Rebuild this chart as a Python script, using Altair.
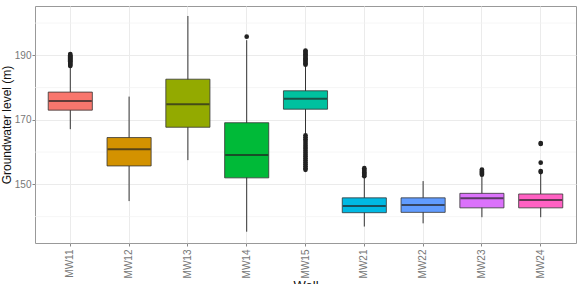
import altair as alt
import pandas as pd

wells = ["MW11", "MW12", "MW13", "MW14", "MW15", "MW21", "MW22", "MW23", "MW24"]
colors = ["#F8766D", "#D39200", "#93AA00", "#00BA38", "#00C19F",
          "#00B9E3", "#619CFF", "#DB72FB", "#FF61C3"]
whisker_lo = [167.1, 144.8, 157.5, 135.3, 165.3, 136.9, 137.9, 139.8, 139.8]
q1 = [173.0, 155.7, 167.7, 152.0, 173.3, 141.2, 141.3, 142.7, 142.7]
median = [175.8, 160.9, 174.8, 159.1, 176.5, 143.3, 143.6, 145.7, 145.1]
q3 = [178.6, 164.5, 182.6, 169.1, 179.0, 145.8, 145.8, 147.2, 147.0]
whisker_hi = [186.5, 177.2, 202.2, 194.7, 187.0, 152.4, 151.0, 152.9, 153.4]
outliers = [
    [186.7, 187.0, 187.3, 187.6, 187.9, 188.2, 188.5, 188.8, 189.1, 189.4, 189.7, 190.0, 190.4],
    [],
    [],
    [195.8],
    [187.1, 187.5, 187.9, 188.3, 188.7, 189.1, 189.5, 189.9, 190.3, 190.7, 191.1, 191.5,
     165.2, 164.6, 164.0, 163.4, 162.8, 162.2, 161.6, 161.0, 160.4, 159.8, 159.2, 158.6,
     158.0, 157.4, 156.8, 156.2, 155.6, 155.0, 154.5],
    [152.5, 152.9, 153.3, 153.7, 154.1, 154.5, 155.0],
    [],
    [153.0, 153.3, 153.6, 153.9, 154.2, 154.6],
    [153.8, 154.1, 156.7, 162.5, 162.8],
]
minor_breaks = [140, 160, 180, 200]
major_breaks = [150, 170, 190]

box_df = pd.DataFrame({
    "well": wells, "lo": whisker_lo, "q1": q1, "med": median, "q3": q3, "hi": whisker_hi,
})
out_df = pd.DataFrame([
    {"well": w, "value": v} for w, vals in zip(wells, outliers) for v in vals
])
minor_df = pd.DataFrame({"y": minor_breaks})

W, H = 541, 237
ydom = [131.8, 205.3]

xenc = alt.X("well:N", sort=wells,
             scale=alt.Scale(paddingInner=0, paddingOuter=0.1),
             axis=alt.Axis(title="Well", labelAngle=270, labelAlign="right",
                           labelBaseline="middle", grid=True, gridColor="#EBEBEB",
                           gridWidth=1, tickColor="#888888", tickSize=3,
                           labelColor="#777777", labelFontSize=10, labelPadding=3,
                           titleFontSize=13, titleFontWeight="normal", titleColor="#111111",
                           titlePadding=2, domain=False, bandPosition=0.5))
yscale = alt.Scale(domain=ydom, nice=False, zero=False)
yaxis = alt.Axis(title="Groundwater level (m)", values=major_breaks,
                 grid=True, gridColor="#EBEBEB", gridWidth=1,
                 tickColor="#888888", tickSize=3, labelColor="#777777",
                 labelFontSize=10, labelPadding=1, domain=False,
                 titleFontSize=12, titleFontWeight="normal",
                 titleColor="#111111", titleX=-34, titleY=H / 2,
                 titleAngle=270, titleAlign="center", titleBaseline="top")

minor = alt.Chart(minor_df).mark_rule(color="#F2F2F2", strokeWidth=0.7).encode(
    y=alt.Y("y:Q", scale=yscale, axis=yaxis)
)

base = alt.Chart(box_df)

whisk = base.mark_rule(color="#333333", strokeWidth=1).encode(
    x=xenc,
    y=alt.Y("lo:Q", scale=yscale),
    y2="hi:Q",
)

box = base.mark_bar(width=alt.RelativeBandSize(0.75), stroke="#333333",
                    strokeWidth=0.8, opacity=1).encode(
    x=xenc,
    y=alt.Y("q1:Q", scale=yscale),
    y2="q3:Q",
    color=alt.Color("well:N", scale=alt.Scale(domain=wells, range=colors), legend=None),
)

med = base.mark_tick(color="#222222", thickness=2, size=43).encode(
    x=xenc,
    y=alt.Y("med:Q", scale=yscale),
)

pts = alt.Chart(out_df).mark_circle(color="#222222", size=22, opacity=1).encode(
    x=xenc,
    y=alt.Y("value:Q", scale=yscale),
)

chart = alt.layer(minor, whisk, box, med, pts).properties(
    width=W, height=H,
    autosize=alt.AutoSizeParams(type="none"),
    padding={"left": 35, "top": 6, "right": 3, "bottom": 41},
).configure_view(stroke="#999999", strokeWidth=1).configure_axis(
    labelFont="Liberation Sans", titleFont="Liberation Sans"
)

chart.save("out.html", embed_options={"renderer": "svg", "actions": False})
